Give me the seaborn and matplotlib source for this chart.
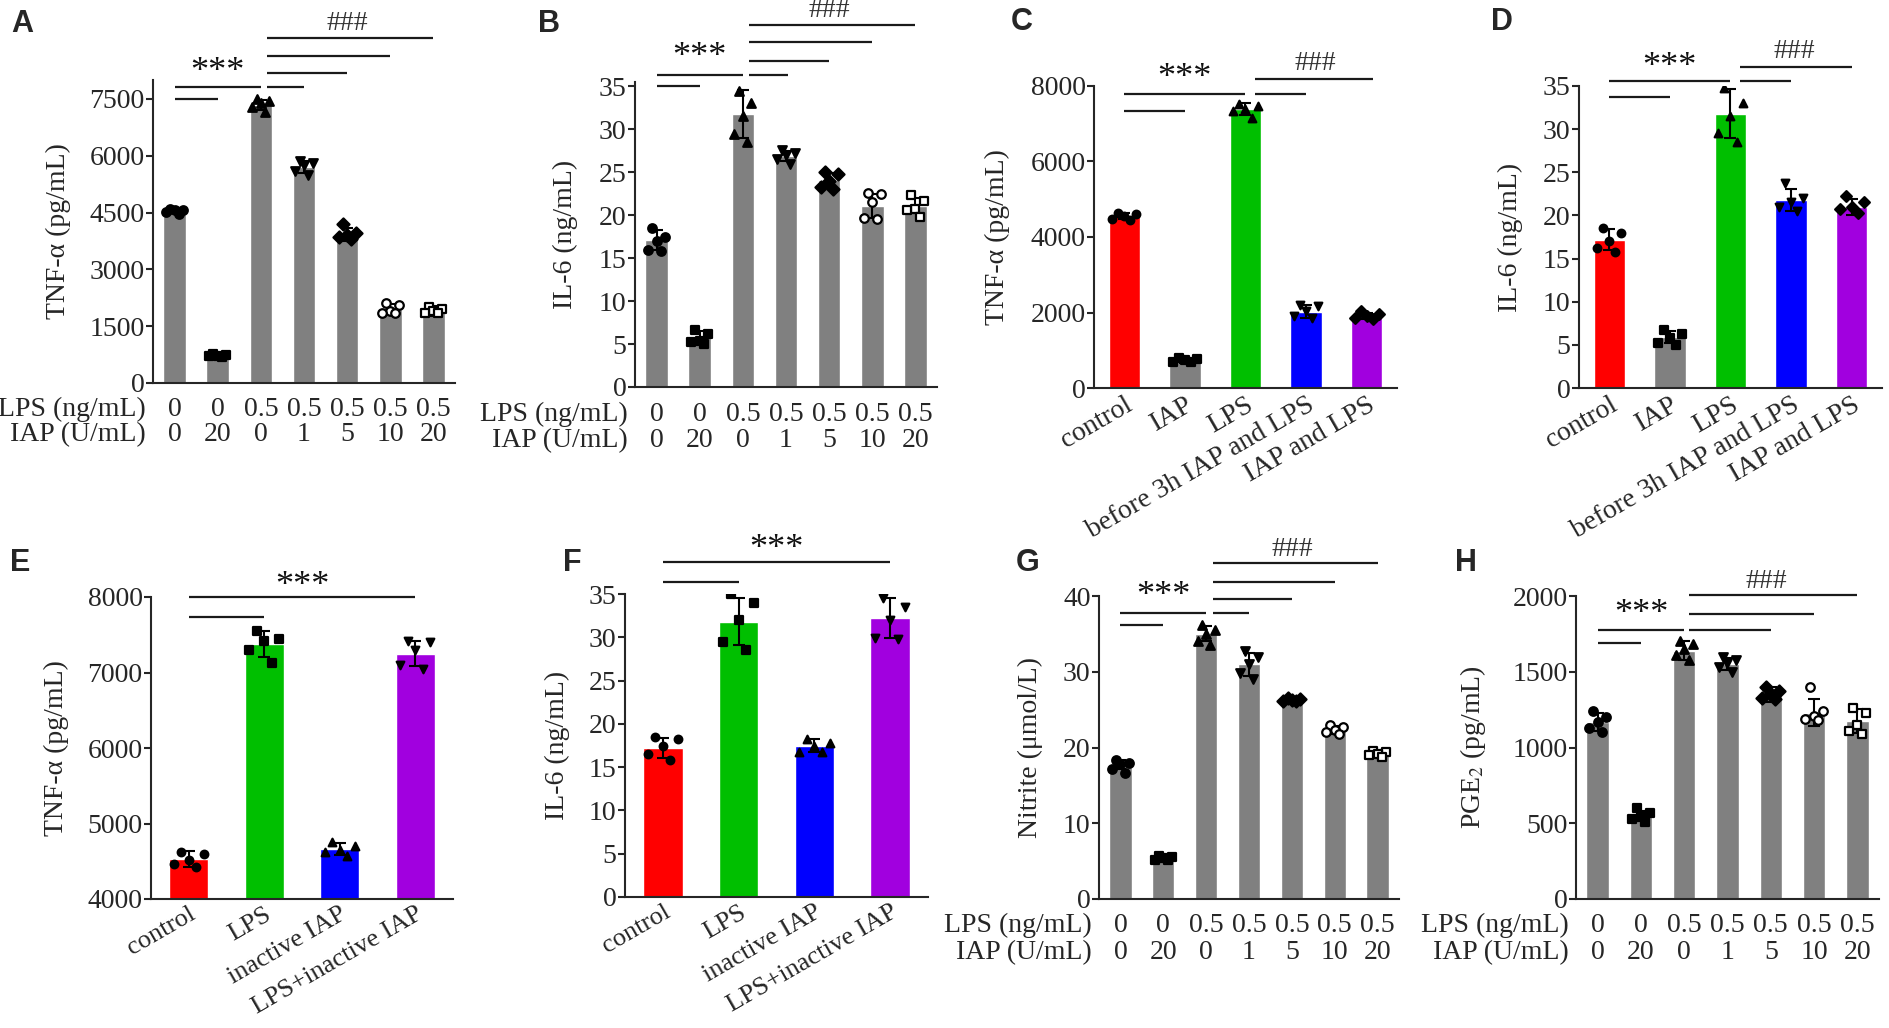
import numpy as np
import pandas as pd
import matplotlib
matplotlib.use("Agg")
import matplotlib.pyplot as plt
import seaborn as sns

sns.set_style("ticks")
plt.rcParams['font.family'] = ['Liberation Serif', 'DejaVu Serif']
plt.rcParams['mathtext.fontset'] = 'stix'
plt.rcParams['axes.linewidth'] = 1.5

GRAY = '#808080'
RED = '#ff0000'
GREEN = '#00bf00'
BLUE = '#0000ff'
PURPLE = '#a100df'

# dose rows (panels A, B, G, H)
lps_dose = ['0', '0', '0.5', '0.5', '0.5', '0.5', '0.5']
iap_dose = ['0', '20', '0', '1', '5', '10', '20']
dose_markers = ['o', 's', '^', 'v', 'D', 'o', 's']
dose_filled = [True, True, True, True, True, False, False]

# A: TNF-a by dose
tnf_dose_mean = [4550, 720, 7350, 5700, 3920, 1950, 1900]
tnf_dose_sd = [70, 40, 130, 150, 160, 140, 120]
tnf_dose_pts = [[4600, 4560, 4580, 4450, 4520],
                [760, 720, 700, 740, 680],
                [7500, 7450, 7380, 7300, 7150],
                [5850, 5800, 5750, 5600, 5500],
                [4200, 3950, 3900, 3850, 3800],
                [2100, 1850, 2050, 1900, 1850],
                [2000, 1850, 1950, 1850, 1900]]

# B: IL-6 by dose
il6_dose_mean = [17.1, 5.8, 31.8, 26.9, 24.1, 21.1, 21.1]
il6_dose_sd = [1.2, 0.7, 2.8, 0.6, 0.8, 1.4, 0.9]
il6_dose_pts = [[18.5, 17.5, 17.0, 16.0, 15.8],
                [6.6, 6.2, 5.3, 5.2, 5.0],
                [34.5, 33.0, 31.5, 29.5, 28.5],
                [27.6, 27.2, 27.0, 26.5, 26.0],
                [25.0, 24.8, 24.0, 23.3, 23.1],
                [22.6, 22.5, 21.5, 19.7, 19.6],
                [22.4, 21.6, 20.7, 20.6, 19.8]]

# C, D: pre-treatment groups
pre_groups = ['control', 'IAP', 'LPS', 'before 3h IAP and LPS', 'IAP and LPS']
pre_colors = [RED, GRAY, GREEN, BLUE, PURPLE]
pre_markers = ['o', 's', '^', 'v', 'D']
tnf_pre_mean = [4550, 720, 7380, 2020, 1920]
tnf_pre_sd = [80, 50, 160, 170, 80]
tnf_pre_pts = [[4640, 4600, 4560, 4480, 4440],
               [800, 760, 740, 700, 680],
               [7520, 7480, 7400, 7350, 7150],
               [2200, 2180, 2050, 1900, 1850],
               [2050, 1950, 1900, 1850, 1830]]
il6_pre_mean = [17.2, 5.9, 31.8, 21.8, 21.0]
il6_pre_sd = [1.2, 0.7, 2.8, 1.3, 0.9]
il6_pre_pts = [[18.5, 18.0, 17.0, 16.2, 15.8],
               [6.7, 6.3, 5.8, 5.2, 5.0],
               [34.8, 33.0, 31.5, 29.5, 28.5],
               [23.8, 22.0, 21.5, 21.0, 20.5],
               [22.3, 21.5, 21.0, 20.8, 20.3]]

# E, F: inactive IAP groups
inact_groups = ['control', 'LPS', 'inactive IAP', 'LPS+inactive IAP']
inact_colors = [RED, GREEN, BLUE, PURPLE]
inact_markers = ['o', 's', '^', 'v']
tnf_inact_mean = [4530, 7380, 4660, 7250]
tnf_inact_sd = [100, 170, 80, 170]
tnf_inact_pts = [[4620, 4600, 4520, 4460, 4420],
                 [7550, 7450, 7420, 7300, 7120],
                 [4750, 4700, 4650, 4620, 4570],
                 [7420, 7400, 7300, 7100, 7050]]
il6_inact_mean = [17.2, 31.8, 17.5, 32.2]
il6_inact_sd = [1.2, 2.7, 0.8, 2.3]
il6_inact_pts = [[18.5, 18.3, 17.5, 16.5, 15.8],
                 [35.0, 34.0, 32.0, 29.5, 28.5],
                 [18.3, 17.8, 17.5, 16.8, 16.8],
                 [34.5, 33.5, 32.0, 29.9, 29.8]]

# G: nitrite by dose
no_dose_mean = [17.8, 5.4, 35.0, 31.0, 26.3, 22.3, 19.2]
no_dose_sd = [0.6, 0.3, 1.0, 1.5, 0.2, 0.5, 0.4]
no_dose_pts = [[18.3, 18.0, 17.8, 17.2, 16.6],
               [5.7, 5.5, 5.4, 5.2, 5.2],
               [36.2, 35.5, 35.0, 34.0, 33.5],
               [32.8, 32.0, 31.0, 29.8, 29.0],
               [26.5, 26.4, 26.3, 26.2, 26.1],
               [23.0, 22.7, 22.3, 22.0, 21.8],
               [19.6, 19.4, 19.2, 19.0, 18.8]]

# H: PGE2 by dose
pge_dose_mean = [1170, 550, 1640, 1550, 1350, 1230, 1175]
pge_dose_sd = [60, 30, 60, 40, 50, 90, 80]
pge_dose_pts = [[1240, 1200, 1170, 1130, 1100],
                [600, 570, 540, 530, 510],
                [1700, 1680, 1650, 1610, 1580],
                [1600, 1580, 1560, 1530, 1500],
                [1400, 1370, 1350, 1330, 1320],
                [1400, 1240, 1210, 1190, 1180],
                [1260, 1230, 1150, 1110, 1090]]

FS = 20
fig = plt.figure(figsize=(18.9, 10.28), dpi=100)


def add_ax(x0, y0, x1, y1):
    return fig.add_axes([x0 / 1890, 1 - y1 / 1028, (x1 - x0) / 1890, (y1 - y0) / 1028])


def bar_panel(ax, means, sds, pts, colors, markers, filled, ylim, yticks, ylabel, lab_x, ms=38):
    n = len(means)
    grp = ['g%d' % i for i in range(n)]
    df = pd.DataFrame({'grp': grp, 'mean': means})
    sns.barplot(data=df, x='grp', y='mean', hue='grp', palette=dict(zip(grp, colors)),
                saturation=1, width=0.52, errorbar=None, legend=False, ax=ax, zorder=2)
    ax.errorbar(range(n), means, yerr=sds, fmt='none', ecolor='black',
                elinewidth=1.5, capsize=4, capthick=1.5, zorder=4)
    # spread the replicates across the bar, extremes near the middle
    offs = np.array([-0.1, 0.2, 0.0, -0.2, 0.1])
    for i, p in enumerate(pts):
        vals = sorted(p, reverse=True)
        ax.scatter(i + offs[:len(vals)], vals, marker=markers[i], s=ms,
                   facecolor='black' if filled[i] else 'white',
                   edgecolor='black', linewidth=1.6, zorder=5)
    ax.set_xlim(-0.5, n - 0.5)
    ax.set_ylim(*ylim)
    ax.set_yticks(yticks)
    ax.set_xlabel('')
    ax.set_ylabel(ylabel, fontsize=FS)
    ax.yaxis.set_label_coords(lab_x, 0.5)
    ax.tick_params(axis='y', direction='out', length=5, width=1.5, labelsize=FS, pad=1)
    ax.tick_params(axis='x', direction='in', length=4, width=1.5, labelsize=FS, pad=3)
    sns.despine(ax=ax)


def dose_rows(ax, y1, y2):
    ax.set_xticks(range(7))
    ax.set_xticklabels([])
    tr = ax.get_xaxis_transform()
    for i in range(7):
        ax.text(i, y1, lps_dose[i], transform=tr, ha='center', va='center', fontsize=FS, clip_on=False)
        ax.text(i, y2, iap_dose[i], transform=tr, ha='center', va='center', fontsize=FS, clip_on=False)
    ax.text(-0.025, y1, 'LPS (ng/mL)', transform=ax.transAxes, ha='right', va='center', fontsize=FS)
    ax.text(-0.025, y2, 'IAP (U/mL)', transform=ax.transAxes, ha='right', va='center', fontsize=FS)


def group_ticks(ax, labels, fs=FS):
    ax.set_xticks(range(len(labels)))
    ax.set_xticklabels(labels, rotation=30, ha='right', rotation_mode='anchor', fontsize=fs)


def sig(ax, x0, x1, y):
    ax.plot([x0, x1], [y, y], color='#1a1a1a', lw=1.6, clip_on=False, solid_capstyle='butt')


def star(ax, x, y, s):
    if s == '***':
        ax.text(x, y, s, ha='center', va='center', fontsize=26, color='#111111', clip_on=False)
    else:
        ax.text(x, y, s, ha='center', va='center', fontsize=20, color='#333333', clip_on=False)


def panel_letter(x, y, s):
    fig.text(x / 1890, 1 - y / 1028, s, ha='center', va='center', fontsize=22,
             fontweight='bold', family='Liberation Sans')


# A
ax = add_ax(153, 80, 455, 383)
bar_panel(ax, tnf_dose_mean, tnf_dose_sd, tnf_dose_pts, [GRAY] * 7, dose_markers, dose_filled,
          (0, 8000), [0, 1500, 3000, 4500, 6000, 7500], 'TNF-α (pg/mL)', -0.27)
dose_rows(ax, -0.086, -0.17)
sig(ax, 0, 1, 7500); sig(ax, 0, 2, 7820)
sig(ax, 2.15, 3, 7820); sig(ax, 2.15, 4, 8190); sig(ax, 2.15, 5, 8640); sig(ax, 2.15, 6, 9110)
star(ax, 1, 8200, '***'); star(ax, 4, 9500, '###')
panel_letter(22, 24, 'A')

# B
ax = add_ax(635, 82, 937, 387)
bar_panel(ax, il6_dose_mean, il6_dose_sd, il6_dose_pts, [GRAY] * 7, dose_markers, dose_filled,
          (0, 35.5), [0, 5, 10, 15, 20, 25, 30, 35], 'IL-6 (ng/mL)', -0.19)
dose_rows(ax, -0.089, -0.176)
sig(ax, 0, 1, 35.0); sig(ax, 0, 2, 36.3)
sig(ax, 2.15, 3.05, 36.3); sig(ax, 2.15, 4, 37.9); sig(ax, 2.15, 5, 40.1); sig(ax, 2.15, 6, 42.1)
star(ax, 1, 38.3, '***'); star(ax, 4, 43.8, '###')
panel_letter(549, 24, 'B')

# C
ax = add_ax(1094, 86, 1397, 388)
bar_panel(ax, tnf_pre_mean, tnf_pre_sd, tnf_pre_pts, pre_colors, pre_markers, [True] * 5,
          (0, 8000), [0, 2000, 4000, 6000, 8000], 'TNF-α (pg/mL)', -0.277, ms=30)
group_ticks(ax, pre_groups)
sig(ax, 0, 1, 7338); sig(ax, 0, 2, 7788); sig(ax, 2.15, 3, 7788); sig(ax, 2.15, 4.1, 8185)
star(ax, 1, 8200, '***'); star(ax, 3.15, 8600, '###')
panel_letter(1022, 22, 'C')

# D
ax = add_ax(1579, 86, 1882, 388)
bar_panel(ax, il6_pre_mean, il6_pre_sd, il6_pre_pts, pre_colors, pre_markers, [True] * 5,
          (0, 35), [0, 5, 10, 15, 20, 25, 30, 35], 'IL-6 (ng/mL)', -0.185, ms=30)
group_ticks(ax, pre_groups)
sig(ax, 0, 1, 33.7); sig(ax, 0, 2, 35.6); sig(ax, 2.15, 3, 35.6); sig(ax, 2.15, 4, 37.2)
star(ax, 1, 37.1, '***'); star(ax, 3.05, 39.0, '###')
panel_letter(1502, 22, 'D')

# E
ax = add_ax(151, 597, 453, 899)
bar_panel(ax, tnf_inact_mean, tnf_inact_sd, tnf_inact_pts, inact_colors, inact_markers, [True] * 4,
          (4000, 8000), [4000, 5000, 6000, 7000, 8000], 'TNF-α (pg/mL)', -0.27, ms=30)
group_ticks(ax, inact_groups, fs=19)
sig(ax, 0, 1, 7735); sig(ax, 0, 3, 8000)
star(ax, 1.5, 8140, '***')
panel_letter(20, 563, 'E')

# F
ax = add_ax(625, 594, 928, 897)
bar_panel(ax, il6_inact_mean, il6_inact_sd, il6_inact_pts, inact_colors, inact_markers, [True] * 4,
          (0, 35), [0, 5, 10, 15, 20, 25, 30, 35], 'IL-6 (ng/mL)', -0.18, ms=30)
group_ticks(ax, inact_groups, fs=19)
sig(ax, 0, 1, 36.4); sig(ax, 0, 3, 38.7)
star(ax, 1.5, 40.1, '***')
panel_letter(572, 563, 'F')

# G
ax = add_ax(1099, 596, 1399, 899)
bar_panel(ax, no_dose_mean, no_dose_sd, no_dose_pts, [GRAY] * 7, dose_markers, dose_filled,
          (0, 40), [0, 10, 20, 30, 40], 'Nitrite (μmol/L)', -0.187)
dose_rows(ax, -0.086, -0.176)
sig(ax, 0, 1, 36.2); sig(ax, 0, 2, 37.8)
sig(ax, 2.15, 3, 37.8); sig(ax, 2.15, 4, 39.6); sig(ax, 2.15, 5, 41.8); sig(ax, 2.15, 6, 44.4)
star(ax, 1, 40.0, '***'); star(ax, 4, 46.2, '###')
panel_letter(1028, 563, 'G')

# H
ax = add_ax(1576, 596, 1879, 899)
bar_panel(ax, pge_dose_mean, pge_dose_sd, pge_dose_pts, [GRAY] * 7, dose_markers, dose_filled,
          (0, 2000), [0, 500, 1000, 1500, 2000], 'PGE$_2$ (pg/mL)', -0.29)
dose_rows(ax, -0.086, -0.176)
sig(ax, 0, 1, 1690); sig(ax, 0, 2, 1778)
sig(ax, 2.12, 4, 1775); sig(ax, 2.12, 5, 1881); sig(ax, 2.12, 6, 2007)
star(ax, 1, 1880, '***'); star(ax, 3.9, 2095, '###')
panel_letter(1466, 563, 'H')

fig.savefig('out.png', dpi=100)
